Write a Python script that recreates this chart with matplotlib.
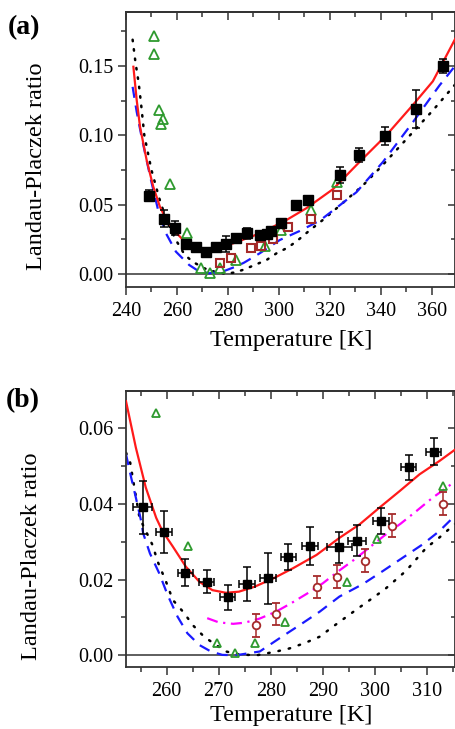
import matplotlib
matplotlib.use("Agg")
import matplotlib.pyplot as plt
from matplotlib.ticker import MultipleLocator, FormatStrFormatter

plt.rcParams['font.family'] = ['Liberation Serif', 'DejaVu Serif']
plt.rcParams['mathtext.fontset'] = 'stix'

# ---------------- Panel (a) data ----------------
a_exp_T = [249.0, 255.0, 259.4, 263.6, 267.5, 271.4, 275.4, 279.4, 283.3, 287.6, 292.8,
           295.2, 297.1, 301.0, 306.7, 311.5, 323.9, 331.5, 341.6, 354.0, 364.6]
a_exp_R = [0.0565, 0.040, 0.033, 0.0218, 0.0195, 0.0155, 0.0195, 0.0215, 0.026, 0.0293, 0.028,
           0.029, 0.031, 0.0365, 0.0495, 0.0535, 0.0715, 0.086, 0.0995, 0.119, 0.150]
a_exp_Rerr = [0.004, 0.006, 0.005, 0.003, 0.002, 0.002, 0.003, 0.006, 0.002, 0.004, 0.002,
              0.002, 0.002, 0.002, 0.002, 0.002, 0.006, 0.005, 0.0065, 0.014, 0.005]
a_exp_Terr = [1.2] * len(a_exp_T)

a_sq_T = [277.0, 281.2, 288.9, 293.2, 297.8, 303.7, 312.8, 323.0]
a_sq_R = [0.0082, 0.0113, 0.0185, 0.0202, 0.025, 0.0337, 0.0394, 0.057]

a_tri_T = [251.1, 251.1, 252.9, 254.6, 253.7, 257.4, 263.9, 269.4, 273.1, 277.0, 283.1,
           294.5, 300.8, 312.8, 322.9]
a_tri_R = [0.172, 0.159, 0.118, 0.112, 0.108, 0.0646, 0.0293, 0.0046, 0.001, 0.004, 0.010,
           0.020, 0.032, 0.046, 0.066]

a_red_T = [242.9, 244.2, 245.5, 248.1, 250.7, 253.3, 255.9, 259.9, 263.8, 267.7, 271.6,
           276.9, 282.1, 289.9, 295.2, 303.0, 310.8, 321.3, 331.8, 342.2, 352.7, 360.5, 369.4]
a_red_R = [0.1495, 0.1255, 0.1063, 0.0822, 0.0630, 0.0486, 0.0389, 0.0293, 0.0221, 0.0185, 0.0173,
           0.0192, 0.0221, 0.0274, 0.0317, 0.0389, 0.0474, 0.0612, 0.0810, 0.1000, 0.1220, 0.1390, 0.170]

a_blue_T = [242.6, 244.2, 245.9, 247.5, 249.8, 252.5, 255.7, 259.6, 264.8, 268.8, 272.7, 277.9,
            283.1, 286.4, 292.5, 300.4, 308.2, 316.1, 323.9, 330.5, 340.9, 352.7, 363.1, 369.4]
a_blue_R = [0.135, 0.117, 0.101, 0.087, 0.0678, 0.047, 0.0293, 0.0161, 0.0065, 0.0017, 0.0005, 0.0017,
            0.0053, 0.0082, 0.0149, 0.0245, 0.0310, 0.0385, 0.0495, 0.0590, 0.0808, 0.1096, 0.136, 0.1505]

a_dot_T = [242.6, 243.7, 245.0, 245.9, 247.2, 250.0, 253.0, 256.0, 259.6, 263.0, 266.1, 270.7,
           275.0, 279.0, 282.5, 286.0, 290.6, 295.2, 299.1, 303.7, 307.6, 311.5, 318.0, 325.0,
           333.1, 340.0, 347.0, 355.0, 360.5, 369.4]
a_dot_R = [0.169, 0.153, 0.1375, 0.123, 0.100, 0.075, 0.055, 0.038, 0.0245, 0.014, 0.0089, 0.0041,
           0.0015, 0.0003, 0.001, 0.003, 0.0065, 0.0101, 0.0149, 0.0192, 0.0245, 0.0305, 0.040, 0.051,
           0.064, 0.077, 0.091, 0.107, 0.118, 0.137]

# ---------------- Panel (b) data ----------------
b_exp_T = [255.4, 259.5, 263.6, 267.7, 271.7, 275.5, 279.5, 283.4, 287.5, 293.2, 296.6,
           301.2, 306.5, 311.3]
b_exp_R = [0.0391, 0.0325, 0.0218, 0.0194, 0.0153, 0.0188, 0.0203, 0.0259, 0.0289, 0.0285,
           0.0303, 0.0355, 0.0496, 0.0538]
b_exp_Rerr = [0.007, 0.0055, 0.0035, 0.003, 0.0033, 0.0045, 0.0068, 0.0034, 0.005, 0.004,
              0.004, 0.0035, 0.0033, 0.0035]
b_exp_Terr = [1.8, 1.5, 1.5, 1.5, 1.5, 1.5, 1.5, 1.5, 1.5, 2.4, 1.8, 1.5, 1.5, 1.5]

b_circ_T = [277.1, 281.1, 288.9, 292.7, 298.1, 303.3, 313.1]
b_circ_R = [0.0079, 0.0109, 0.0180, 0.0208, 0.0250, 0.0342, 0.0400]
b_circ_Rerr = [0.003] * len(b_circ_T)

b_tri_T = [258.0, 264.2, 269.6, 273.2, 277.0, 282.8, 294.7, 300.5, 313.1]
b_tri_R = [0.0639, 0.0289, 0.0032, 0.0005, 0.0032, 0.0087, 0.0194, 0.0306, 0.0448]

b_red_T = [252.2, 254.1, 256.0, 258.0, 259.2, 261.2, 263.7, 266.3, 268.8, 271.4, 273.9,
           276.9, 280.5, 284.3, 288.8, 293.2, 297.1, 300.9, 304.8, 308.6, 312.4, 315.5]
b_red_R = [0.0671, 0.0548, 0.0443, 0.0363, 0.0328, 0.0287, 0.0234, 0.0194, 0.0172, 0.0165, 0.0168,
           0.0181, 0.0203, 0.0230, 0.0265, 0.0310, 0.0346, 0.0390, 0.0434, 0.0478, 0.0513, 0.0544]

b_mag_T = [267.8, 270.0, 272.8, 275.0, 277.9, 281.0, 284.0, 287.0, 290.0, 293.0, 296.0, 299.0,
           302.0, 305.0, 308.0, 311.0, 313.0, 315.5]
b_mag_R = [0.0098, 0.0087, 0.0083, 0.0086, 0.0097, 0.0115, 0.0138, 0.0163, 0.0190, 0.0222, 0.0252,
           0.0285, 0.0318, 0.0348, 0.0381, 0.0415, 0.0435, 0.0460]

b_blue_T = [252.2, 253.2, 254.1, 255.1, 255.5, 256.8, 258.6, 260.2, 262.1, 264.0, 266.3, 268.5,
            270.7, 273.3, 277.9, 281.7, 285.6, 289.4, 293.2, 297.7, 301.6, 305.4, 309.2, 312.4, 315.5]
b_blue_R = [0.0531, 0.0469, 0.0416, 0.0355, 0.0322, 0.0269, 0.0216, 0.0159, 0.0102, 0.0058, 0.0027,
            0.0010, 0.0001, 0.0, 0.0010, 0.0045, 0.0080, 0.0115, 0.0155, 0.0188, 0.0223, 0.0258,
            0.0293, 0.0328, 0.0370]

b_dot_T = [252.2, 253.0, 253.6, 254.8, 257.3, 258.3, 259.9, 261.2, 263.4, 265.0, 267.2, 269.5,
           271.4, 274.0, 277.3, 281.1, 283.6, 286.5, 289.4, 292.0, 294.2, 296.4, 301.9, 306.0,
           309.9, 312.4, 315.5]
b_dot_R = [0.0535, 0.0509, 0.046, 0.0363, 0.0291, 0.0247, 0.0194, 0.0146, 0.0111, 0.0080, 0.0049,
           0.0027, 0.0010, 0.0002, 0.0, 0.0010, 0.0018, 0.0032, 0.0049, 0.0076, 0.0098, 0.0120,
           0.0174, 0.0223, 0.0284, 0.0311, 0.0348]

RED = '#ff1a1a'
BLUE = '#1a1aff'
GREEN = '#2e9a2e'
DRED = '#a52a2a'
MAG = '#ff00ff'
AXC = '#333333'

fig = plt.figure(figsize=(4.56, 7.29), dpi=100)
W = 456.0
H = 729.0
axa = fig.add_axes([126 / W, (H - 287) / H, 329.5 / W, 275 / H])
axb = fig.add_axes([126 / W, (H - 667) / H, 329.5 / W, 276 / H])


def style(ax, xmaj, xmin, ymaj, ymin, yfmt):
    for s in ax.spines.values():
        s.set_linewidth(1.3)
        s.set_color(AXC)
    ax.xaxis.set_major_locator(MultipleLocator(xmaj))
    ax.xaxis.set_minor_locator(MultipleLocator(xmin))
    ax.yaxis.set_major_locator(MultipleLocator(ymaj))
    ax.yaxis.set_minor_locator(MultipleLocator(ymin))
    ax.yaxis.set_major_formatter(FormatStrFormatter(yfmt))
    ax.tick_params(which='both', direction='out', top=False, right=False,
                   width=1.1, color=AXC, labelsize=14.5)
    ax.tick_params(axis='x', pad=5)
    ax.tick_params(axis='y', pad=3)
    ax.tick_params(which='major', length=6)
    ax.tick_params(which='minor', length=3.5)
    sx = ax.secondary_xaxis('top')
    sx.xaxis.set_major_locator(MultipleLocator(xmaj))
    sx.xaxis.set_minor_locator(MultipleLocator(xmin))
    sx.tick_params(which='both', direction='in', labeltop=False, width=1.1, color=AXC)
    sx.tick_params(which='major', length=6)
    sx.tick_params(which='minor', length=3.5)
    sx.spines['top'].set_linewidth(1.3)
    sx.spines['top'].set_color(AXC)
    sy = ax.secondary_yaxis('right')
    sy.yaxis.set_major_locator(MultipleLocator(ymaj))
    sy.yaxis.set_minor_locator(MultipleLocator(ymin))
    sy.tick_params(which='both', direction='in', labelright=False, width=1.1, color=AXC)
    sy.tick_params(which='major', length=6)
    sy.tick_params(which='minor', length=3.5)
    sy.spines['right'].set_linewidth(1.3)
    sy.spines['right'].set_color(AXC)
    ax.axhline(0, color=AXC, lw=1.1, zorder=1)
    ax.set_ylabel('Landau-Placzek ratio', fontsize=17.5)


# ---- (a)
axa.plot(a_dot_T, a_dot_R, color='black', lw=1.8, ls=(0, (0.6, 3.2)), dash_capstyle='round', zorder=2)
axa.plot(a_blue_T, a_blue_R, color=BLUE, lw=1.6, ls=(0, (5, 3.5)), zorder=2)
axa.plot(a_red_T, a_red_R, color=RED, lw=1.6, zorder=3)
axa.plot(a_tri_T, a_tri_R, ls='none', marker='^', ms=7.5, mfc='none', mec=GREEN, mew=1.3, zorder=4)
axa.plot(a_sq_T, a_sq_R, ls='none', marker='s', ms=6, mfc='none', mec=DRED, mew=1.5, zorder=4)
axa.errorbar(a_exp_T, a_exp_R, yerr=a_exp_Rerr, xerr=a_exp_Terr, fmt='s', ms=6.5, color='black',
             ecolor='black', elinewidth=1.1, capsize=3, capthick=1.1, zorder=5)
axa.set_xlim(240, 369.4)
axa.set_ylim(-0.0094, 0.189)
style(axa, 20, 10, 0.05, 0.025, '%.2f')
axa.set_xlabel('Temperature [K]', fontsize=17.5, labelpad=6)
axa.yaxis.set_label_coords(-0.24, 0.44)

# ---- (b)
axb.plot(b_dot_T, b_dot_R, color='black', lw=1.8, ls=(0, (0.6, 3.6)), dash_capstyle='round', zorder=2)
axb.plot(b_blue_T, b_blue_R, color=BLUE, lw=1.6, ls=(0, (5, 3.5)), zorder=2)
axb.plot(b_mag_T, b_mag_R, color=MAG, lw=1.6, ls=(0, (5, 2.5, 1, 2.5)), zorder=2)
axb.plot(b_red_T, b_red_R, color=RED, lw=1.6, zorder=3)
axb.plot(b_tri_T, b_tri_R, ls='none', marker='^', ms=6, mfc='none', mec=GREEN, mew=1.3, zorder=4)
axb.errorbar(b_circ_T, b_circ_R, yerr=b_circ_Rerr, fmt='o', ms=5.5, mfc='white', mec=DRED, mew=1.3,
             ecolor=DRED, elinewidth=1.1, capsize=3, capthick=1.1, zorder=4)
axb.errorbar(b_exp_T, b_exp_R, yerr=b_exp_Rerr, xerr=b_exp_Terr, fmt='s', ms=5.5, color='black',
             ecolor='black', elinewidth=1.1, capsize=3, capthick=1.1, zorder=5)
axb.set_xlim(252.2, 315.5)
axb.set_ylim(-0.0031, 0.0698)
style(axb, 10, 5, 0.02, 0.01, '%.2f')
axb.set_xlabel('Temperature [K]', fontsize=17.5, labelpad=3)
axb.yaxis.set_label_coords(-0.255, 0.40)

fig.text(8 / W, 1 - 28 / H, '(a)', fontsize=20, fontweight='bold', va='center', ha='left')
fig.text(6 / W, 1 - 401 / H, '(b)', fontsize=20, fontweight='bold', va='center', ha='left')

fig.savefig('out.png', dpi=100)
